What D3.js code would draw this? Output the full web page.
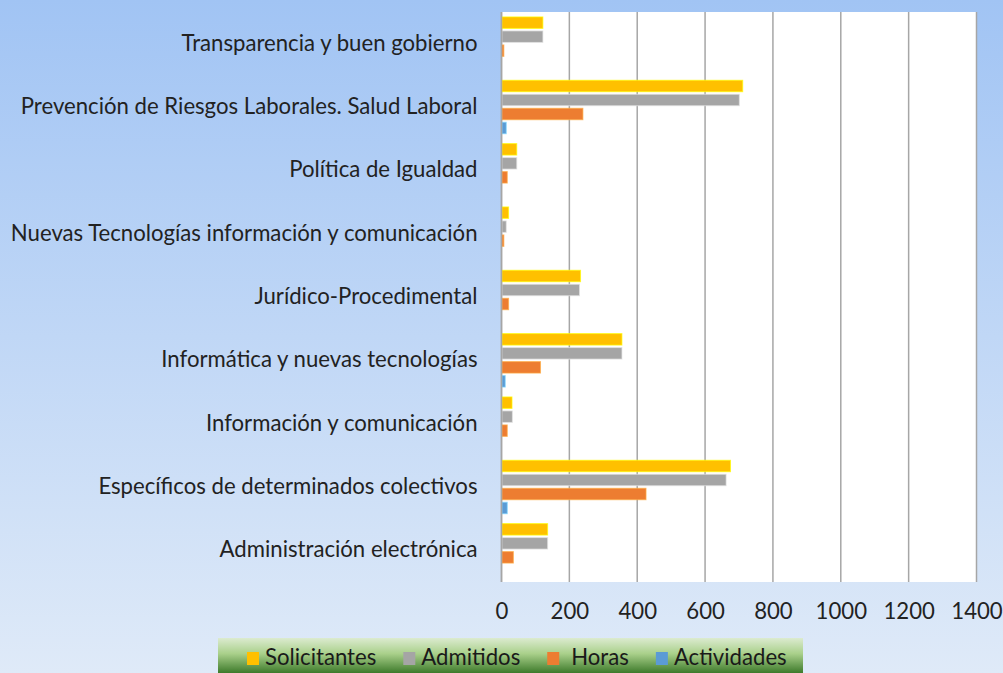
<!DOCTYPE html>
<html><head><meta charset="utf-8">
<script src="https://cdn.jsdelivr.net/npm/d3@7/dist/d3.min.js"></script>
<style>html,body{margin:0;padding:0;overflow:hidden;background:#fff}</style>
</head><body>
<svg id="chart" width="1003" height="673"></svg>
<script>
const categories = [
  "Transparencia y buen gobierno",
  "Prevención de Riesgos Laborales. Salud Laboral",
  "Política de Igualdad",
  "Nuevas Tecnologías información y comunicación",
  "Jurídico-Procedimental",
  "Informática y nuevas tecnologías",
  "Información y comunicación",
  "Específicos de determinados colectivos",
  "Administración electrónica"
];
const seriesNames = ["Solicitantes", "Admitidos", "Horas", "Actividades"];
const solicitantes = [122, 711, 45, 21, 233, 355, 31, 675, 136];
const admitidos    = [122, 701, 45, 14, 230, 355, 32, 662, 136];
const horas        = [7, 240, 17, 7, 21, 115, 17, 426, 35];
const actividades  = [0, 14, 0, 0, 0, 11, 0, 17, 0];
const xTicks = [0, 200, 400, 600, 800, 1000, 1200, 1400];
const colors = ["#FFC000", "#A5A5A5", "#ED7D31", "#5B9BD5"];

const seriesValues = [solicitantes, admitidos, horas, actividades];
const W = 1003, H = 673;
const svg = d3.select("#chart");
const font = "Lato, 'Open Sans', sans-serif";

const defs = svg.append("defs");
const bg = defs.append("linearGradient").attr("id","bg").attr("x1",0).attr("y1",0).attr("x2",0).attr("y2",1);
bg.append("stop").attr("offset","0%").attr("stop-color","#a1c4f4");
bg.append("stop").attr("offset","100%").attr("stop-color","#dfeaf8");
const lg = defs.append("linearGradient").attr("id","lg").attr("x1",0).attr("y1",0).attr("x2",0).attr("y2",1);
lg.append("stop").attr("offset","0%").attr("stop-color","#dcebd0");
lg.append("stop").attr("offset","45%").attr("stop-color","#a9d08a");
lg.append("stop").attr("offset","100%").attr("stop-color","#3d7a2b");

svg.append("rect").attr("width",W).attr("height",H).attr("fill","url(#bg)");

const m = {left:501.5, right:976.5, top:12, bottom:582};
const x = d3.scaleLinear().domain([0,1400]).range([m.left, m.right]);
const y = d3.scaleBand().domain(categories).range([m.top, m.bottom]).padding(0);
const yi = d3.scaleBand().domain(seriesNames)
  .range([y.bandwidth()/2 - 28, y.bandwidth()/2 + 28]).paddingInner(0.18).paddingOuter(0.09);

svg.append("rect").attr("x",m.left).attr("y",m.top).attr("width",m.right-m.left).attr("height",m.bottom-m.top).attr("fill","#fff");

// gridlines
svg.append("g").selectAll("line").data(xTicks).join("line")
  .attr("x1",d=>x(d)).attr("x2",d=>x(d)).attr("y1",m.top).attr("y2",m.bottom)
  .attr("stroke","#a6a6a6").attr("stroke-width",1.5);

// bars
const rows = [];
categories.forEach((c,i)=>seriesNames.forEach((s,j)=>rows.push({c, s, j, v: seriesValues[j][i]})));
svg.append("g").selectAll("rect").data(rows.filter(r=>r.v>0)).join("rect")
  .attr("x", x(0)+0.5)
  .attr("y", d=>y(d.c)+yi(d.s))
  .attr("width", d=>Math.max(0, x(d.v)-x(0)-0.5))
  .attr("height", yi.bandwidth())
  .attr("fill", d=>colors[d.j])
  .attr("stroke", d=>d3.color(colors[d.j]).brighter(0.9).copy({opacity:0.7}))
  .attr("stroke-width",1);

// category labels
const yAxis = svg.append("g").attr("transform",`translate(${m.left},0)`)
  .call(d3.axisLeft(y).tickSize(0).tickPadding(24));
yAxis.select(".domain").remove();
yAxis.selectAll("text").attr("font-family",font).attr("font-size",21).attr("fill","#222");

let maxW = 0;
yAxis.selectAll("text").each(function(){ maxW = Math.max(maxW, this.getComputedTextLength()); });
const fs = 21 * 467 / maxW;
yAxis.selectAll("text").attr("font-size", fs);

// axis line at 0
svg.append("line").attr("x1",x(0)).attr("x2",x(0)).attr("y1",m.top).attr("y2",m.bottom)
  .attr("stroke","#a6a6a6").attr("stroke-width",1.5);

// x tick labels
const xAxis = svg.append("g").attr("transform",`translate(0,${m.bottom})`)
  .call(d3.axisBottom(x).tickValues(xTicks).tickSize(0).tickPadding(21).tickFormat(d3.format("d")));
xAxis.select(".domain").remove();
xAxis.selectAll("text").attr("font-family",font).attr("font-size",fs).attr("fill","#222");

// legend
const legX = 218, legY = 638, legW = 585, legH = 35;
svg.append("rect").attr("x",legX).attr("y",legY).attr("width",legW).attr("height",legH).attr("fill","url(#lg)");
let cx = legX + 29;
const textOff = [18, 18, 24, 18];
seriesNames.forEach((s,j)=>{
  svg.append("rect").attr("x",cx).attr("y",legY+14).attr("width",12).attr("height",13).attr("fill",colors[j]);
  const t = svg.append("text").attr("x",cx+textOff[j]).attr("y",legY+27)
    .attr("font-family",font).attr("font-size",fs).attr("fill","#1a1a1a").text(s);
  cx = cx + textOff[j] + t.node().getComputedTextLength() + 27;
});
</script>
</body></html>
